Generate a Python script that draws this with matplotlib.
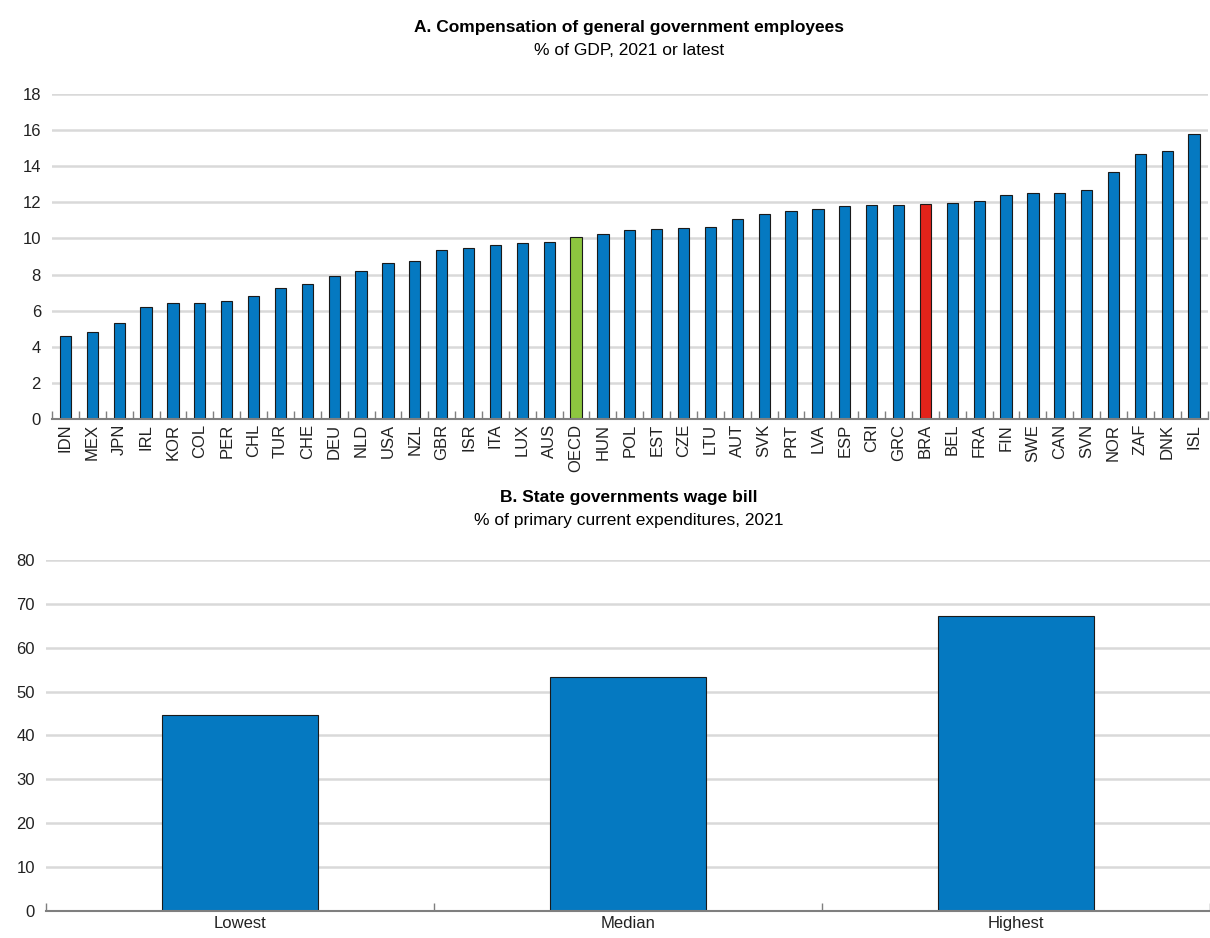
import matplotlib
matplotlib.use("Agg")
import numpy as np
from matplotlib import pyplot as plt

plt.rcParams['font.family'] = ['Liberation Sans Narrow', 'Liberation Sans', 'DejaVu Sans']

# Panel A data
countries = ['IDN', 'MEX', 'JPN', 'IRL', 'KOR', 'COL', 'PER', 'CHL', 'TUR', 'CHE',
             'DEU', 'NLD', 'USA', 'NZL', 'GBR', 'ISR', 'ITA', 'LUX', 'AUS', 'OECD',
             'HUN', 'POL', 'EST', 'CZE', 'LTU', 'AUT', 'SVK', 'PRT', 'LVA', 'ESP',
             'CRI', 'GRC', 'BRA', 'BEL', 'FRA', 'FIN', 'SWE', 'CAN', 'SVN', 'NOR',
             'ZAF', 'DNK', 'ISL']
compensation = [4.6, 4.8, 5.3, 6.2, 6.45, 6.45, 6.55, 6.8, 7.25, 7.5,
                7.9, 8.2, 8.65, 8.75, 9.35, 9.45, 9.65, 9.75, 9.8, 10.1,
                10.25, 10.45, 10.5, 10.6, 10.65, 11.1, 11.35, 11.5, 11.65, 11.8,
                11.85, 11.85, 11.9, 11.95, 12.1, 12.4, 12.5, 12.5, 12.7, 13.7,
                14.65, 14.85, 15.8]

# Panel B data
stats = ['Lowest', 'Median', 'Highest']
wage_bill = [44.6, 53.3, 67.2]

blue = '#0579C1'
green = '#8DC63F'
red = '#E2231A'
grid_col = '#D9D9D9'
axis_col = '#7F7F7F'

fig = plt.figure(figsize=(12.1, 9.38), dpi=100)

def style(ax, n):
    ax.set_axisbelow(True)
    ax.yaxis.grid(True, color=grid_col, linewidth=1.8)
    for s in ['top', 'right', 'left']:
        ax.spines[s].set_visible(False)
    ax.spines['bottom'].set_color(axis_col)
    ax.spines['bottom'].set_linewidth(1.5)
    ax.tick_params(axis='y', length=0, labelsize=12, pad=8, labelcolor='#222222')
    ax.tick_params(axis='x', length=0, labelsize=12, labelcolor='#222222')
    ax.set_xticks(np.arange(n + 1) - 0.5, minor=True)
    ax.tick_params(axis='x', which='minor', direction='in', length=6,
                   width=1, color=axis_col)
    ax.set_xlim(-0.5, n - 0.5)

# Panel A
ax1 = fig.add_axes([0.043, 0.5533, 0.955, 0.3465])
x = np.arange(len(countries))
colors = [green if c == 'OECD' else red if c == 'BRA' else blue for c in countries]
ax1.bar(x, compensation, width=0.42, color=colors, edgecolor='#1a1a1a', linewidth=0.8)
ax1.set_ylim(0, 18)
ax1.set_yticks(range(0, 19, 2))
ax1.set_xticks(x)
ax1.set_xticklabels(countries, rotation=90)
style(ax1, len(countries))
fig.text(0.52, 0.971, 'A. Compensation of general government employees',
         ha='center', va='center', fontsize=12.5, fontweight='bold')
fig.text(0.52, 0.946, '% of GDP, 2021 or latest', ha='center', va='center', fontsize=12.5)

# Panel B
ax2 = fig.add_axes([0.038, 0.0288, 0.962, 0.3742])
x2 = np.arange(len(stats))
ax2.bar(x2, wage_bill, width=0.4, color=blue, edgecolor='#1a1a1a', linewidth=0.8)
ax2.set_ylim(0, 80)
ax2.set_yticks(range(0, 81, 10))
ax2.set_xticks(x2)
ax2.set_xticklabels(stats)
style(ax2, len(stats))
fig.text(0.52, 0.47, 'B. State governments wage bill',
         ha='center', va='center', fontsize=12.5, fontweight='bold')
fig.text(0.52, 0.445, '% of primary current expenditures, 2021',
         ha='center', va='center', fontsize=12.5)

fig.savefig('out.png', dpi=100)
